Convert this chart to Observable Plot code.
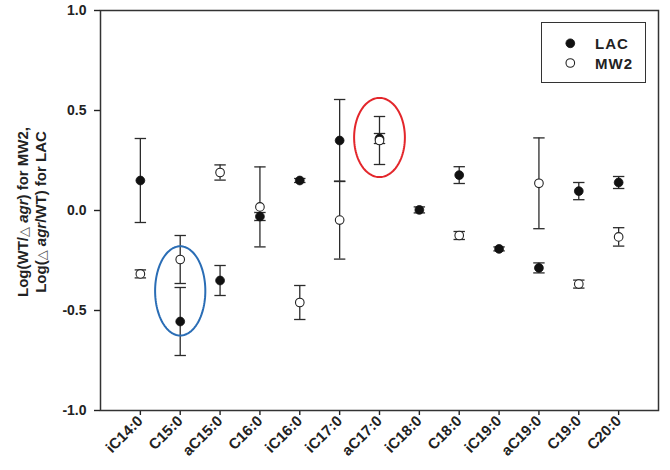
<!DOCTYPE html>
<html><head><meta charset="utf-8">
<script src="https://cdn.jsdelivr.net/npm/d3@7"></script>
<script src="https://cdn.jsdelivr.net/npm/@observablehq/plot@0.6"></script>
<style>
body{margin:0;background:#fff;}
#wrap{position:relative;width:670px;height:470px;font-family:"Liberation Sans",Arial,sans-serif;color:#222;}
#legend{position:absolute;left:541px;top:22px;width:105px;height:61px;border:1.4px solid #333;box-sizing:border-box;background:#fff;}
#legend svg{position:absolute;left:0;top:0;}
</style></head>
<body><div id="wrap"><div id="legend"></div></div>
<script>
const categories = ["iC14:0","C15:0","aC15:0","C16:0","iC16:0","iC17:0","aC17:0","iC18:0","C18:0","iC19:0","aC19:0","C19:0","C20:0"];
const lacMean = [0.15, -0.555, -0.35, -0.03, 0.15, 0.35, 0.36, 0.003, 0.177, -0.192, -0.287, 0.097, 0.14];
const lacErr  = [0.21, 0.17, 0.075, 0.02, 0.01, 0.205, 0.025, 0.015, 0.042, 0.01, 0.025, 0.043, 0.03];
const mw2Mean = [-0.317, -0.245, 0.19, 0.018, -0.46, -0.048, 0.35, null, -0.125, null, 0.136, -0.368, -0.132];
const mw2Err  = [0.02, 0.12, 0.038, 0.2, 0.085, 0.195, 0.12, null, 0.02, null, 0.227, 0.02, 0.046];
const yTicks = [-1, -0.5, 0, 0.5, 1];
const seriesNames = ["LAC", "MW2"];
// highlight ellipses: category position, center value, half-width (categories), half-height (values)
const ellipseX = [2, 7];
const ellipseY = [-0.402, 0.365];
const ellipseRX = [0.63, 0.637];
const ellipseRY = [0.223, 0.198];
const ellipseColors = ["#2a6db5", "#e3262b"];

const pos = categories.map((_, i) => i + 1);
const lac = categories.map((c, i) => ({x: pos[i], mean: lacMean[i], lo: lacMean[i] - lacErr[i], hi: lacMean[i] + lacErr[i]}));
const mw2 = categories.map((c, i) => ({x: pos[i], mean: mw2Mean[i], lo: mw2Mean[i] - mw2Err[i], hi: mw2Mean[i] + mw2Err[i]})).filter(d => d.mean != null);

const ellipses = [];
ellipseX.forEach((cx, k) => {
  for (let a = 0; a <= 120; a++) {
    const t = a / 120 * 2 * Math.PI;
    ellipses.push({k, x: cx + ellipseRX[k] * Math.cos(t), y: ellipseY[k] + ellipseRY[k] * Math.sin(t)});
  }
});

const cap = {draw(ctx, size) { const w = Math.sqrt(size / Math.PI); ctx.moveTo(-w, 0); ctx.lineTo(w, 0); }};
const capsOf = (arr) => arr.flatMap(d => [{x: d.x, y: d.lo}, {x: d.x, y: d.hi}]);

const barStroke = "#2b2b2b";
const chart = Plot.plot({
  width: 670, height: 470,
  marginLeft: 100, marginRight: 12, marginTop: 10, marginBottom: 60,
  style: {fontFamily: "Liberation Sans, Arial, sans-serif", color: "#222", background: "#fff"},
  x: {domain: [0, 14]},
  y: {domain: [-1, 1]},
  marks: [
    Plot.axisY({ticks: yTicks, tickFormat: d => d.toFixed(1), tickSize: 6, tickPadding: 8, label: null, fontSize: 14, fontWeight: "bold", strokeWidth: 1.4}),
    Plot.axisX({ticks: pos, tickFormat: i => categories[i - 1], tickSize: 5, tickPadding: 3, tickRotate: -45, label: null, fontSize: 15, fontWeight: "bold", strokeWidth: 1.4}),
    Plot.frame({stroke: "#333", strokeWidth: 1.5}),
    Plot.ruleX(lac, {x: "x", y1: "lo", y2: "hi", stroke: barStroke, strokeWidth: 1.3}),
    Plot.ruleX(mw2, {x: "x", y1: "lo", y2: "hi", stroke: barStroke, strokeWidth: 1.3}),
    Plot.dot(capsOf(lac), {x: "x", y: "y", symbol: cap, r: 5.7, fill: "none", stroke: barStroke, strokeWidth: 1.3}),
    Plot.dot(capsOf(mw2), {x: "x", y: "y", symbol: cap, r: 5.7, fill: "none", stroke: barStroke, strokeWidth: 1.3}),
    Plot.dot(lac, {x: "x", y: "mean", r: 4.4, fill: "#111", stroke: "#111", strokeWidth: 0.8}),
    Plot.dot(mw2, {x: "x", y: "mean", r: 4.3, fill: "#fff", stroke: "#222", strokeWidth: 1.1}),
    Plot.line(ellipses, {x: "x", y: "y", z: "k", stroke: d => ellipseColors[d.k], strokeWidth: 2})
  ]
});
document.getElementById("wrap").prepend(chart);

// y-axis title with mixed styling
const g = d3.select(chart).append("g").attr("font-family", "Liberation Sans, Arial, sans-serif")
  .attr("font-weight", "bold").attr("font-size", 15).attr("fill", "#222");
function titleLine(x, parts) {
  const t = g.append("text").attr("transform", `translate(${x},212) rotate(-90)`).attr("text-anchor", "middle");
  parts.forEach(([s, st]) => {
    const ts = t.append("tspan").text(s);
    if (st === "i") ts.attr("font-style", "italic");
    if (st === "d") ts.attr("font-weight", "normal").attr("font-family", "DejaVu Sans").attr("font-size", 13).attr("fill", "#555");
  });
}
titleLine(28, [["Log(WT/", ""], ["\u25B3", "d"], [" ", ""], ["agr", "i"], [") for MW2,", ""]]);
titleLine(46, [["Log(", ""], ["\u25B3", "d"], [" ", ""], ["agr", "i"], ["/WT) for LAC", ""]]);

// legend
const lg = d3.select("#legend").append("svg").attr("width", 105).attr("height", 61);
const rows = lg.selectAll("g").data(seriesNames).join("g")
  .attr("transform", (d, i) => `translate(0,${i * 19.7})`);
rows.append("circle").attr("cx", 28.3).attr("cy", 20.3).attr("r", (d, i) => i ? 4.3 : 4.4)
  .attr("fill", (d, i) => i ? "#fff" : "#111").attr("stroke", (d, i) => i ? "#222" : "#111").attr("stroke-width", (d, i) => i ? 1.1 : 0.8);
rows.append("text").attr("x", 53).attr("y", 26).text(d => d)
  .attr("font-family", "Liberation Sans, Arial, sans-serif").attr("font-weight", "bold").attr("font-size", 15)
  .attr("letter-spacing", 1).attr("fill", "#222");
</script>
</body></html>
